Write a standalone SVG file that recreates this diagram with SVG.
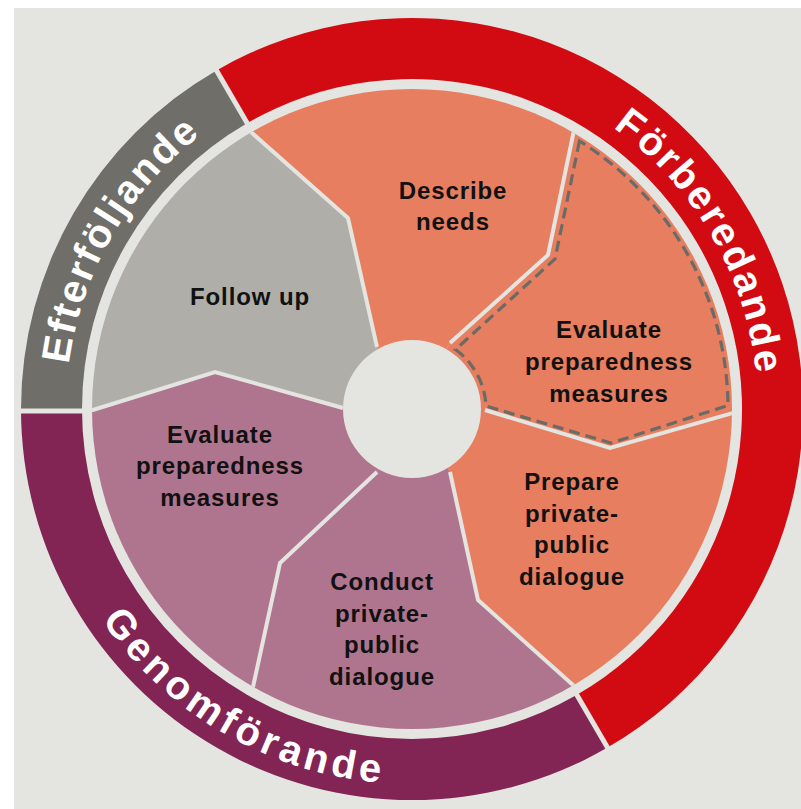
<svg xmlns="http://www.w3.org/2000/svg" width="801" height="809" viewBox="0 0 801 809">
<defs>
<style>
.bg{fill:#e4e4e0}
.sep{fill:none;stroke:#e4e4e0;stroke-width:4;stroke-linejoin:miter}
.gap{stroke:#e4e4e0;stroke-width:5}
.lbl{font-family:"Liberation Sans",Arial,sans-serif;font-weight:bold;font-size:24px;letter-spacing:0.9px;fill:#111;text-anchor:middle}
.ring{font-family:"Liberation Sans",Arial,sans-serif;font-weight:bold;font-size:40px;fill:#fff;text-anchor:middle}
.salmon{fill:#e77e60}
.pink{fill:#b0758e}
.grey{fill:#afaea9}
</style>
<clipPath id="disc"><circle cx="412" cy="409" r="320"/></clipPath>
<path id="pF" d="M239,109.4 A346,346 0 0 1 711.6,236 A346,346 0 0 1 585,708.6"/>
<path id="pE" d="M112.4,582 A346,346 0 0 1 112.4,236 A346,346 0 0 1 412,63"/>
<path id="pG" d="M37,409 A375,375 0 0 0 224.5,733.8 A375,375 0 0 0 599.5,733.8"/>
</defs>
<rect width="801" height="809" fill="#ffffff"/>
<rect x="14" y="8" width="787" height="801" class="bg"/>

<g id="ring-forberedande">
<path d="M216.5,70.4 A391,391 0 0 1 750.6,213.5 A391,391 0 0 1 607.5,747.6 L577,694.8 A330,330 0 0 0 697.8,244 A330,330 0 0 0 247,123.2 Z" fill="#d20b13"/>
<text class="ring" letter-spacing="2.4"><textPath href="#pF" startOffset="50%">Förberedande</textPath></text>
</g>
<g id="ring-efterfoljande">
<path d="M21,409 A391,391 0 0 1 216.5,70.4 L247,123.2 A330,330 0 0 0 82,409 Z" fill="#6f6e68"/>
<text class="ring" letter-spacing="2.2"><textPath href="#pE" startOffset="50%">Efterföljande</textPath></text>
</g>
<g id="ring-genomforande">
<path d="M607.5,747.6 A391,391 0 0 1 21,409 L82,409 A330,330 0 0 0 577,694.8 Z" fill="#822454"/>
<text class="ring" letter-spacing="4.4"><textPath href="#pG" startOffset="50%">Genomförande</textPath></text>
</g>

<g id="ring-gaps">
<line class="gap" x1="211" y1="61" x2="250" y2="128"/>
<line class="gap" x1="574" y1="690" x2="613" y2="757"/>
<line class="gap" x1="14" y1="411" x2="86" y2="411"/>
</g>

<g clip-path="url(#disc)">
<g id="describe-needs-shape">
<polygon class="salmon" points="412,409 377,347 348,218 252,133 212,64 412,0 613,66 573,135 548,255 450,343"/>
</g>
<g id="evaluate-right-shape">
<polygon class="salmon" points="412,409 450,343 548,255 573,135 613,66 820,60 813,414 733,413 610,448 485,410"/>
</g>
<g id="prepare-dialogue-shape">
<polygon class="salmon" points="412,409 485,410 610,448 733,413 813,414 820,760 613,754 573,685 478,600 450,472"/>
</g>
<g id="conduct-dialogue-shape">
<polygon class="pink" points="412,409 450,472 478,600 573,685 613,754 412,820 213,756 253,687 280,563 377,472"/>
</g>
<g id="evaluate-left-shape">
<polygon class="pink" points="412,409 377,472 280,563 253,687 213,756 0,760 13,410 93,410 215,372 343,408"/>
</g>
<g id="follow-up-shape">
<polygon class="grey" points="412,409 343,408 215,372 93,410 13,410 0,60 212,64 252,133 348,218 377,347"/>
</g>
<g id="connectors">
<polyline class="sep" points="377,347 348,218 252,133 240,112"/>
<polyline class="sep" points="450,343 548,255 573,135 578,110"/>
<polyline class="sep" points="485,410 610,448 733,413 760,412"/>
<polyline class="sep" points="450,472 478,600 573,685 590,712"/>
<polyline class="sep" points="377,472 280,563 253,687 248,712"/>
<polyline class="sep" points="343,408 215,372 93,410 70,410"/>
</g>
</g>

<circle id="hub" cx="412" cy="409" r="69" class="bg"/>

<path id="highlight" d="M579.5,141 L555,259 L455.5,349.5 A74,74 0 0 1 486,406 L611,443 L728,405.5 A316,316 0 0 0 579.5,141 Z" fill="none" stroke="#6b6b66" stroke-width="3.2" stroke-dasharray="11 6"/>

<g id="describe-needs"><text class="lbl" x="453" y="199">Describe<tspan x="453" dy="31">needs</tspan></text></g>
<g id="follow-up"><text class="lbl" x="250" y="305">Follow up</text></g>
<g id="evaluate-right"><text class="lbl" x="609" y="338">Evaluate<tspan x="609" dy="32">preparedness</tspan><tspan x="609" dy="32">measures</tspan></text></g>
<g id="evaluate-left"><text class="lbl" x="220" y="443">Evaluate<tspan x="220" dy="31">preparedness</tspan><tspan x="220" dy="32">measures</tspan></text></g>
<g id="prepare-dialogue"><text class="lbl" x="572" y="490">Prepare<tspan x="572" dy="32">private-</tspan><tspan x="572" dy="31">public</tspan><tspan x="572" dy="32">dialogue</tspan></text></g>
<g id="conduct-dialogue"><text class="lbl" x="382" y="590">Conduct<tspan x="382" dy="32">private-</tspan><tspan x="382" dy="31">public</tspan><tspan x="382" dy="32">dialogue</tspan></text></g>
</svg>
